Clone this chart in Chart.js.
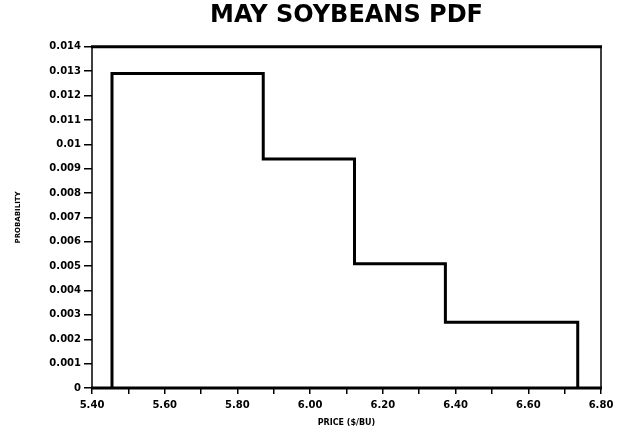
<!DOCTYPE html>
<html>
<head>
<meta charset="utf-8">
<script src="https://cdn.jsdelivr.net/npm/chart.js@4.4.1/dist/chart.umd.min.js"></script>
<style>
html,body{margin:0;padding:0;background:#fff;}
#wrap{width:628px;height:442px;position:relative;}
</style>
</head>
<body>
<div id="wrap"><canvas id="c" width="628" height="442"></canvas></div>
<script>
// Bin edges of the price PDF ($/bu) and probability of each bin
const binEdges = [5.455, 5.871, 6.122, 6.372, 6.736];
const binProbabilities = [0.0129, 0.0094, 0.0051, 0.0027];
const xTickLabels = ['5.40', '5.60', '5.80', '6.00', '6.20', '6.40', '6.60', '6.80'];
const yTickLabels = ['0', '0.001', '0.002', '0.003', '0.004', '0.005', '0.006', '0.007', '0.008', '0.009', '0.01', '0.011', '0.012', '0.013', '0.014'];
const chartTitle = 'MAY SOYBEANS PDF';
const xTitle = 'PRICE ($/BU)';
const yTitle = 'PROBABILITY';

// Step outline points built from the bins
const pts = [{x: binEdges[0], y: 0}];
for (let i = 0; i < binProbabilities.length; i++) {
  pts.push({x: binEdges[i], y: binProbabilities[i]});
}
pts.push({x: binEdges[binEdges.length - 1], y: 0});

const tickFont = {family: 'DejaVu Sans', size: 10, weight: 'bold'};

const framePlugin = {
  id: 'frame',
  afterDatasetsDraw(chart) {
    const {ctx, chartArea: a} = chart;
    ctx.save();
    ctx.strokeStyle = '#000';
    ctx.lineWidth = 3;
    ctx.beginPath();
    ctx.moveTo(a.left - 1, a.top); ctx.lineTo(a.right + 1, a.top);
    ctx.moveTo(a.left - 1, a.bottom); ctx.lineTo(a.right + 1, a.bottom);
    ctx.stroke();
    ctx.lineWidth = 1.5;
    ctx.beginPath();
    ctx.moveTo(a.left, a.top); ctx.lineTo(a.left, a.bottom);
    ctx.moveTo(a.right, a.top); ctx.lineTo(a.right, a.bottom);
    ctx.stroke();
    ctx.restore();
  }
};

new Chart(document.getElementById('c'), {
  type: 'line',
  data: {
    datasets: [{
      data: pts,
      stepped: 'before',
      borderColor: '#000',
      borderWidth: 3,
      pointRadius: 0,
      fill: false,
      clip: false,
      borderJoinStyle: 'miter'
    }]
  },
  options: {
    responsive: false,
    animation: false,
    layout: {padding: {left: 14, right: 27, top: 0, bottom: 14}},
    plugins: {
      legend: {display: false},
      tooltip: {enabled: false},
      title: {
        display: true,
        fullSize: false,
        text: chartTitle,
        color: '#000',
        font: {family: 'DejaVu Sans', size: 24, weight: 'bold'},
        padding: {top: 1, bottom: 17}
      }
    },
    scales: {
      x: {
        type: 'linear',
        min: 5.4,
        max: 6.8,
        afterFit(s) { s.height = 40; },
        border: {display: false},
        grid: {drawOnChartArea: false, drawTicks: true, tickLength: 6, color: '#000', lineWidth: 1.5},
        ticks: {
          stepSize: 0.1,
          autoSkip: false,
          maxRotation: 0,
          color: '#000',
          font: tickFont,
          padding: 5,
          callback(v, i) { return i % 2 === 0 ? xTickLabels[i / 2] : ''; }
        },
        title: {display: true, text: xTitle, color: '#000', font: {family: 'DejaVu Sans', size: 8, weight: 'bold'}, padding: {top: 0, bottom: 0}}
      },
      y: {
        min: 0,
        max: 0.014,
        afterFit(s) { s.width = 78; },
        border: {display: false},
        grid: {drawOnChartArea: false, drawTicks: true, tickLength: 8, color: '#000', lineWidth: 1.5},
        ticks: {
          stepSize: 0.001,
          autoSkip: false,
          color: '#000',
          font: tickFont,
          padding: 3,
          callback(v, i) { return yTickLabels[i]; }
        },
        title: {display: true, text: yTitle, color: '#000', font: {family: 'DejaVu Sans', size: 7, weight: 'bold'}, padding: {top: 0, bottom: 0}}
      }
    }
  },
  plugins: [framePlugin]
});
</script>
</body>
</html>
